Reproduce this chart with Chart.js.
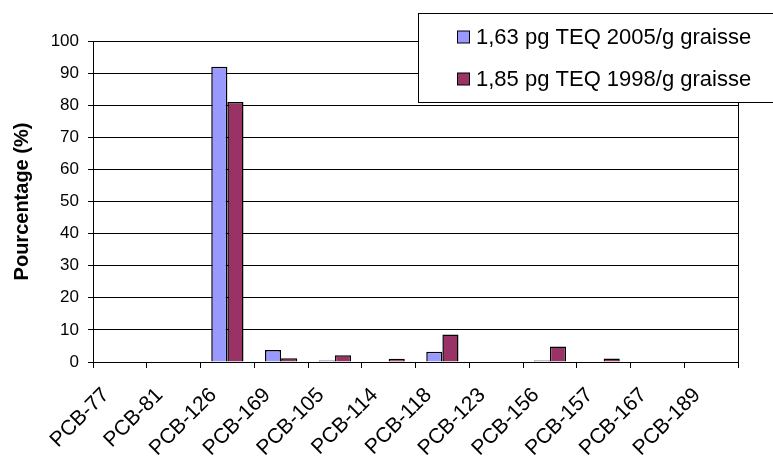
<!DOCTYPE html>
<html>
<head>
<meta charset="utf-8">
<script src="https://cdn.jsdelivr.net/npm/chart.js@4"></script>
<style>
html,body{margin:0;padding:0;background:#fff;}
#c{display:block;}
</style>
</head>
<body>
<canvas id="c" width="773" height="456"></canvas>
<script>
const categories = ["PCB-77","PCB-81","PCB-126","PCB-169","PCB-105","PCB-114","PCB-118","PCB-123","PCB-156","PCB-157","PCB-167","PCB-189"];
const series2005 = [0, 0, 92, 3.7, 0.5, 0, 3.2, 0, 0.5, 0, 0, 0];
const series1998 = [0, 0, 81, 1.2, 2.1, 1.0, 8.6, 0, 4.8, 1.1, 0, 0];
const label2005 = "1,63 pg TEQ 2005/g graisse";
const label1998 = "1,85 pg TEQ 1998/g graisse";
const yTicks = [0,10,20,30,40,50,60,70,80,90,100];

const FONT = "'Liberation Sans', Arial, sans-serif";

const rightBorder = {
  id: 'rightBorder',
  afterDraw(chart) {
    const a = chart.chartArea, ctx = chart.ctx;
    ctx.save();
    ctx.strokeStyle = '#000';
    ctx.lineWidth = 1;
    ctx.beginPath();
    ctx.moveTo(Math.round(a.right) + 0.5, a.top);
    ctx.lineTo(Math.round(a.right) + 0.5, a.bottom);
    ctx.stroke();
    ctx.restore();
  }
};

const boxLegend = {
  id: 'boxLegend',
  afterDraw(chart) {
    const ctx = chart.ctx;
    const x0 = 418, y0 = 13, w = 360, h = 89;
    ctx.save();
    ctx.fillStyle = '#fff';
    ctx.fillRect(x0, y0, w, h);
    ctx.strokeStyle = '#000';
    ctx.lineWidth = 1;
    ctx.strokeRect(x0 + 0.5, y0 + 0.5, w, h);
    ctx.font = "22px " + FONT;
    ctx.textBaseline = 'middle';
    chart.data.datasets.forEach((ds, i) => {
      const cy = y0 + 24 + i * 42;
      ctx.fillStyle = ds.backgroundColor;
      ctx.fillRect(457.5, cy - 6, 12, 12);
      ctx.strokeStyle = '#000';
      ctx.strokeRect(457.5, cy - 6, 12, 12);
      ctx.fillStyle = '#000';
      ctx.fillText(ds.label, 476, cy + 1);
    });
    ctx.restore();
  }
};

new Chart(document.getElementById('c'), {
  type: 'bar',
  data: {
    labels: categories,
    datasets: [
      { label: label2005, data: series2005, backgroundColor: '#9999ff', borderColor: '#000', borderWidth: 1.5, borderSkipped: 'bottom' },
      { label: label1998, data: series1998, backgroundColor: '#993366', borderColor: '#000', borderWidth: 1.5, borderSkipped: 'bottom' }
    ]
  },
  options: {
    responsive: false,
    animation: false,
    devicePixelRatio: 1,
    layout: { padding: { top: 41, right: 35, left: 0, bottom: 0 } },
    plugins: { legend: { display: false }, tooltip: { enabled: false } },
    datasets: { bar: { categoryPercentage: 0.6, barPercentage: 1.0 } },
    scales: {
      x: {
        offset: true,
        grid: { offset: true, drawOnChartArea: false, drawTicks: true, tickLength: 6, color: '#000' },
        border: { display: true, color: '#000', width: 1 },
        ticks: { minRotation: 45, maxRotation: 45, autoSkip: false, color: '#000', font: { family: FONT, size: 21 }, padding: 15, labelOffset: -14 },
        afterFit(s) { s.height = 456 - 362; }
      },
      y: {
        min: 0, max: 100,
        afterBuildTicks(s) { s.ticks = yTicks.map(v => ({ value: v })); },
        grid: { color: '#000', lineWidth: 1, tickLength: 5, drawTicks: true },
        border: { display: true, color: '#000', width: 1 },
        ticks: { color: '#000', font: { family: FONT, size: 17 }, padding: 9 },
        title: { display: true, text: 'Pourcentage (%)', color: '#000', font: { family: FONT, size: 20, weight: 'bold' }, padding: { top: 10, bottom: 0 } },
        afterFit(s) { s.width = 93; }
      }
    }
  },
  plugins: [rightBorder, boxLegend]
});
</script>
</body>
</html>
